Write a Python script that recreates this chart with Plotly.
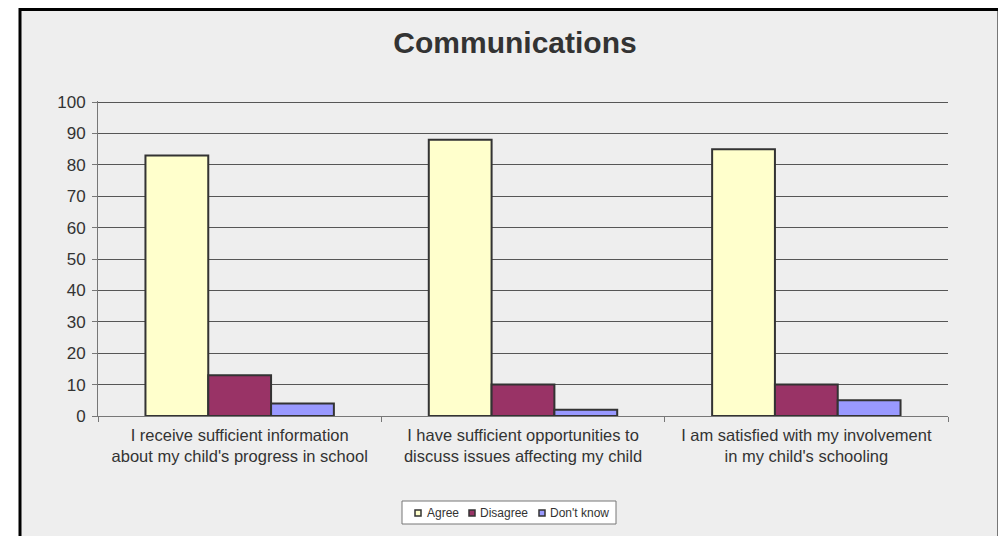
import plotly.graph_objects as go

categories = [
    "I receive sufficient information<br>about my child's progress in school",
    "I have sufficient opportunities to<br>discuss issues affecting my child",
    "I am satisfied with my involvement<br>in my child's schooling",
]
agree = [83, 88, 85]
disagree = [13, 10, 10]
dont_know = [4, 2, 5]
series_names = ["Agree", "Disagree", "Don't know"]
series_colors = ["#FFFFCC", "#993366", "#9999FF"]
y_ticks = list(range(0, 101, 10))

W, H = 1006, 536
OFF = 8  # page body margin offset
L, R, T, B = 98 - OFF, W - (948 - OFF), 101 - OFF, H - (416 - OFF)
pw, ph = W - L - R, H - T - B

def px_x(px):
    return (px - OFF - L) / pw

def px_y(py):
    return (H - B - (py - OFF)) / ph

fig = go.Figure()
for name, vals, col in zip(series_names, [agree, disagree, dont_know], series_colors):
    fig.add_trace(go.Bar(
        x=categories, y=vals, name=name,
        marker=dict(color=col, line=dict(color="#333333", width=2)),
    ))

# background panel with black frame
shapes = [dict(
    type="rect", xref="paper", yref="paper", layer="below",
    x0=px_x(20), x1=px_x(999), y0=px_y(560), y1=px_y(9.5),
    fillcolor="#EEEEEE", line=dict(color="black", width=3),
)]
# compact legend box (Excel style)
shapes.append(dict(
    type="rect", xref="paper", yref="paper",
    x0=px_x(402), x1=px_x(616), y0=px_y(524), y1=px_y(501),
    fillcolor="white", line=dict(color="#777777", width=1),
))
legend_square_x = [418, 472, 542]
legend_text_x = [425, 478, 548]
annotations = []
for name, col, sx, tx in zip(series_names, series_colors, legend_square_x, legend_text_x):
    shapes.append(dict(
        type="rect", xref="paper", yref="paper",
        x0=px_x(sx - 3), x1=px_x(sx + 3), y0=px_y(516), y1=px_y(510),
        fillcolor=col, line=dict(color="#333333", width=1.5),
    ))
    annotations.append(dict(
        text=name, xref="paper", yref="paper", x=px_x(tx), y=px_y(513),
        xanchor="left", yanchor="middle", showarrow=False,
        font=dict(size=12, color="#333333"),
    ))

fig.update_layout(
    width=W, height=H,
    margin=dict(l=L, r=R, t=T, b=B),
    paper_bgcolor="white",
    plot_bgcolor="rgba(0,0,0,0)",
    barmode="group",
    bargap=0.335,
    bargroupgap=0,
    font=dict(family="Liberation Sans, Arial, sans-serif", color="#333333", size=16),
    title=dict(text="<b>Communications</b>", x=px_x(515), xref="paper",
               y=1 - (42 - OFF) / H, yanchor="middle", xanchor="center",
               font=dict(size=30, color="#333333")),
    showlegend=False,
    shapes=shapes,
    annotations=annotations,
)

fig.update_xaxes(
    showgrid=False, showline=True, linecolor="#777777", linewidth=1,
    ticks="outside", tickson="boundaries", ticklen=5, tickcolor="#777777",
    tickfont=dict(size=16.5, color="#333333"), ticklabelstandoff=4,
)
fig.update_yaxes(
    range=[0, 100.35], tickvals=y_ticks, showgrid=True, gridcolor="#555555", gridwidth=1,
    showline=True, linecolor="#777777", linewidth=1,
    ticks="outside", ticklen=5, tickcolor="#777777",
    tickfont=dict(size=17, color="#333333"), zeroline=False, ticklabelstandoff=3,
)

fig.write_html("out.html")
